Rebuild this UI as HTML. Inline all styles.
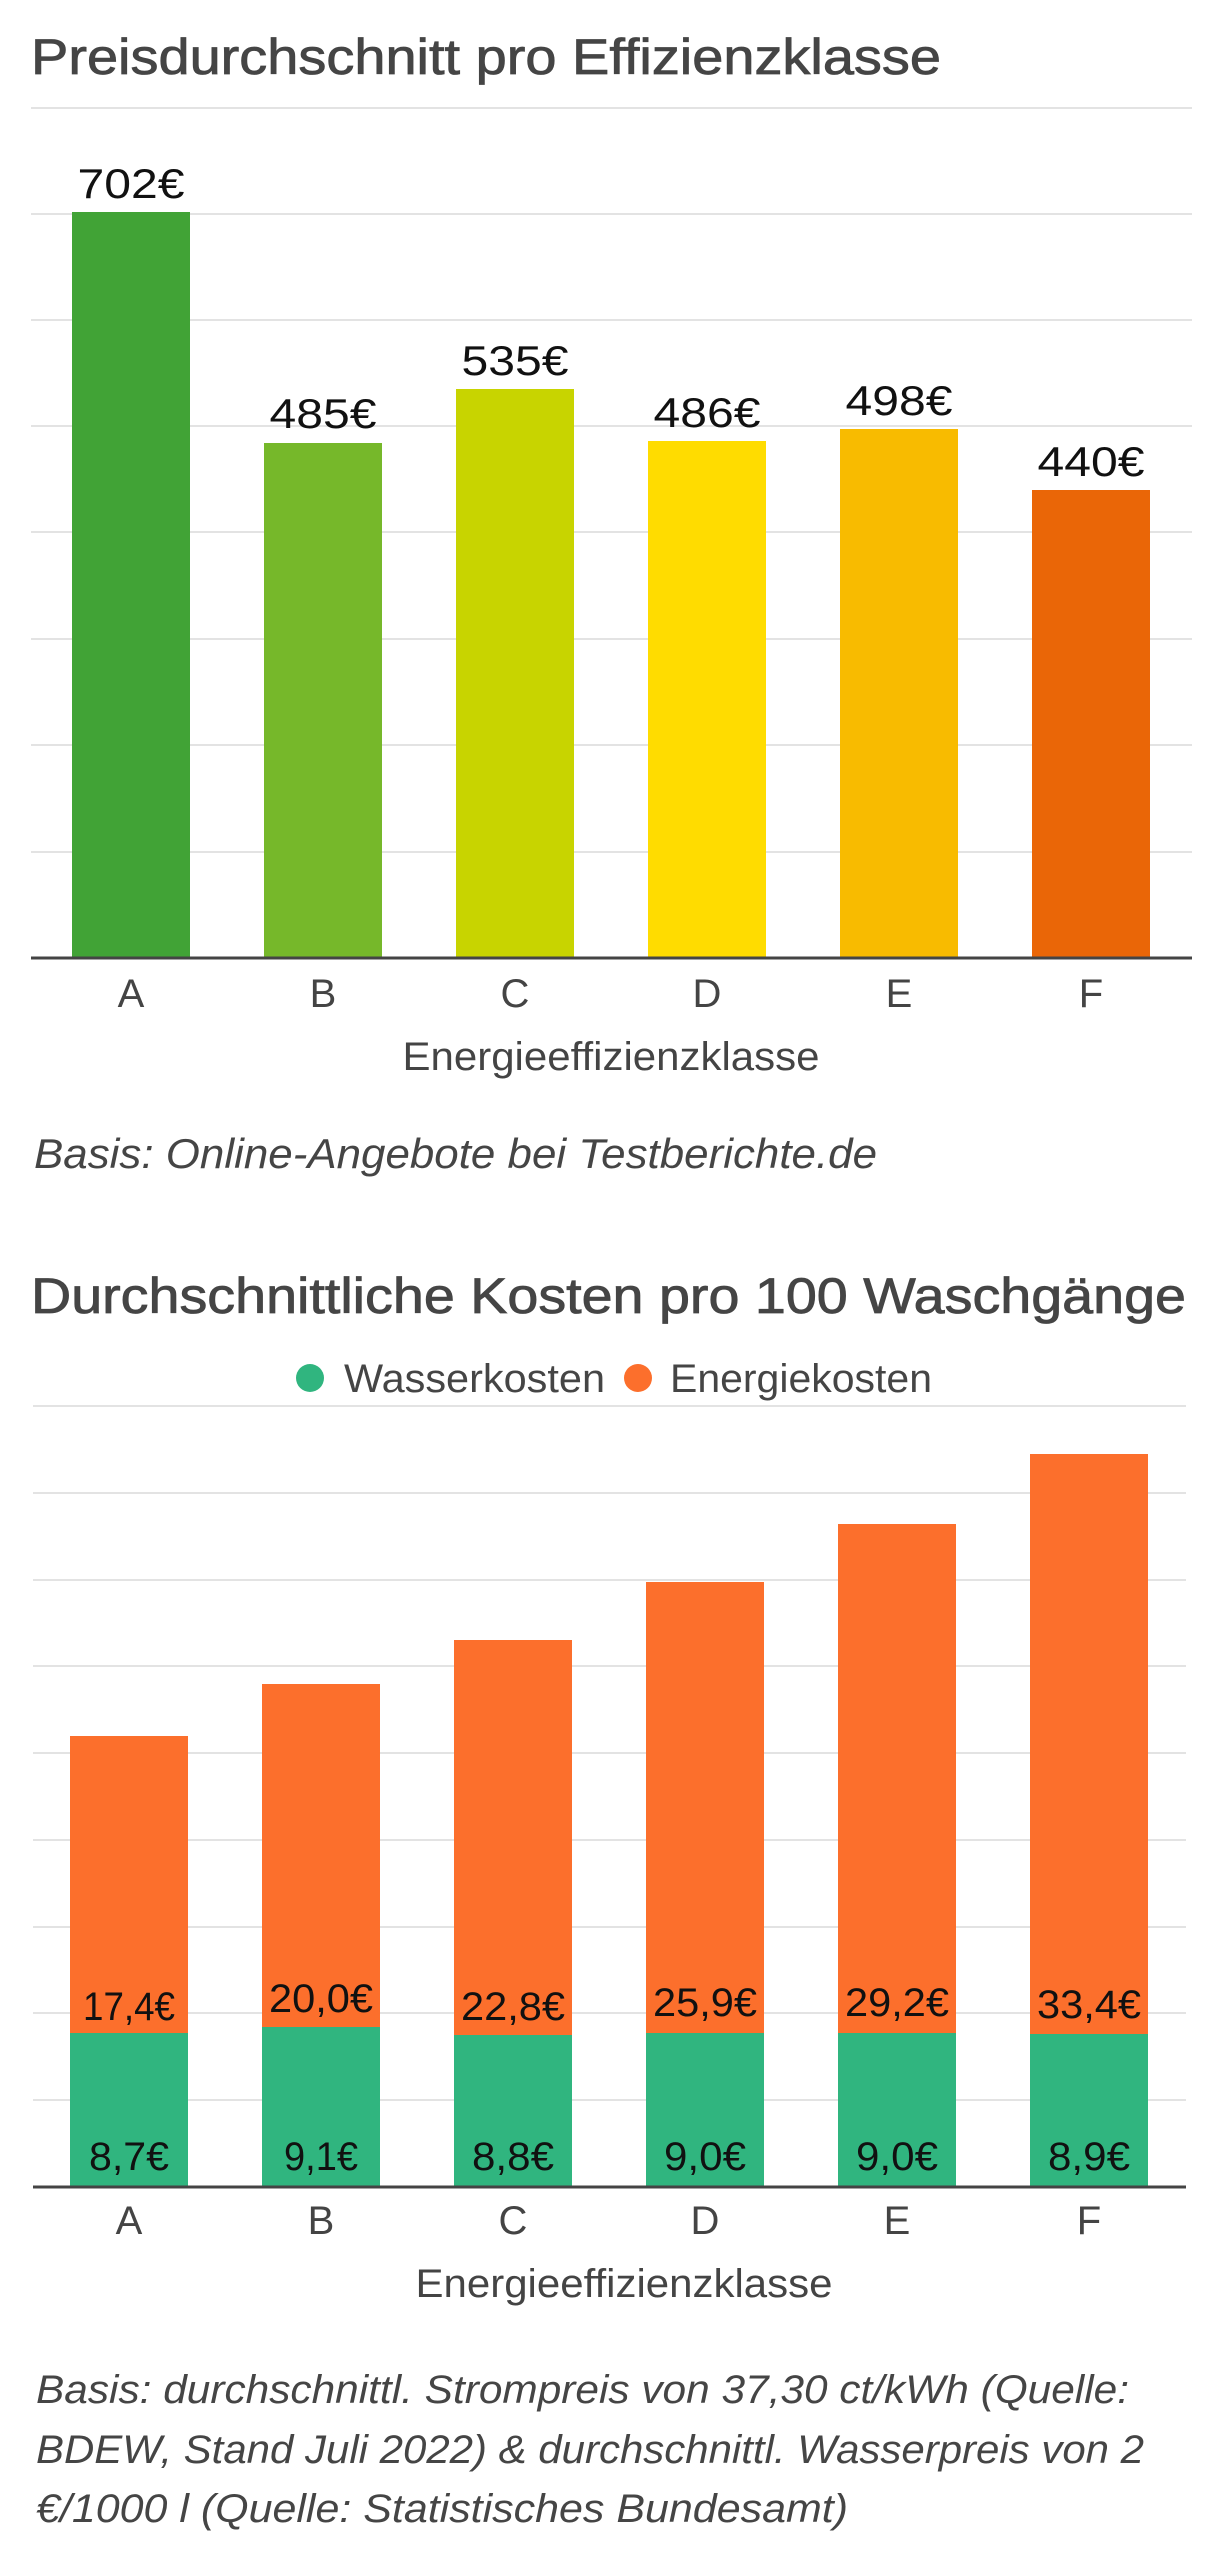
<!DOCTYPE html>
<html><head><meta charset="utf-8"><style>
html,body{margin:0;padding:0;background:#fff;width:1216px;height:2560px;overflow:hidden}
svg{display:block}
text{font-family:"Liberation Sans",sans-serif}
</style></head><body>
<svg width="1216" height="2560" viewBox="0 0 1216 2560" xmlns="http://www.w3.org/2000/svg">
<!-- Chart 1 -->
<text x="31" y="74" font-size="50" fill="#454545" stroke="#454545" stroke-width="0.8" textLength="910" lengthAdjust="spacingAndGlyphs">Preisdurchschnitt pro Effizienzklasse</text>
<g stroke="#e3e3e3" stroke-width="2">
<line x1="31" x2="1192" y1="108" y2="108"/><line x1="31" x2="1192" y1="214" y2="214"/>
<line x1="31" x2="1192" y1="320" y2="320"/><line x1="31" x2="1192" y1="426" y2="426"/>
<line x1="31" x2="1192" y1="532" y2="532"/><line x1="31" x2="1192" y1="639" y2="639"/>
<line x1="31" x2="1192" y1="745" y2="745"/><line x1="31" x2="1192" y1="852" y2="852"/>
</g>
<rect x="72" y="212" width="118" height="746" fill="#41a336"/>
<rect x="264" y="443" width="118" height="515" fill="#76b82a"/>
<rect x="456" y="389" width="118" height="569" fill="#c8d400"/>
<rect x="648" y="441" width="118" height="517" fill="#ffdc00"/>
<rect x="840" y="429" width="118" height="529" fill="#f8bb00"/>
<rect x="1032" y="490" width="118" height="468" fill="#ea6607"/>
<line x1="31" x2="1192" y1="958" y2="958" stroke="#444" stroke-width="3"/>
<g font-size="42" fill="#111" text-anchor="middle">
<text x="131" y="198" textLength="107" lengthAdjust="spacingAndGlyphs">702€</text><text x="323" y="428" textLength="107" lengthAdjust="spacingAndGlyphs">485€</text><text x="515" y="375" textLength="107" lengthAdjust="spacingAndGlyphs">535€</text>
<text x="707" y="427" textLength="107" lengthAdjust="spacingAndGlyphs">486€</text><text x="899" y="415" textLength="107" lengthAdjust="spacingAndGlyphs">498€</text><text x="1091" y="476" textLength="107" lengthAdjust="spacingAndGlyphs">440€</text>
</g>
<g font-size="40" fill="#444" text-anchor="middle">
<text x="131" y="1007">A</text><text x="323" y="1007">B</text><text x="515" y="1007">C</text>
<text x="707" y="1007">D</text><text x="899" y="1007">E</text><text x="1091" y="1007">F</text>
<text x="611" y="1070" textLength="417" lengthAdjust="spacingAndGlyphs">Energieeffizienzklasse</text>
</g>
<text x="34" y="1168" font-size="42" font-style="italic" fill="#454545" textLength="843" lengthAdjust="spacingAndGlyphs">Basis: Online-Angebote bei Testberichte.de</text>

<!-- Chart 2 -->
<text x="31" y="1313" font-size="50" fill="#454545" stroke="#454545" stroke-width="0.8" textLength="1155" lengthAdjust="spacingAndGlyphs">Durchschnittliche Kosten pro 100 Waschgänge</text>
<circle cx="310" cy="1378" r="14" fill="#30b57f"/>
<text x="344" y="1392" font-size="40" fill="#454545" textLength="261" lengthAdjust="spacingAndGlyphs">Wasserkosten</text>
<circle cx="638" cy="1378" r="14" fill="#fc6f2c"/>
<text x="670" y="1392" font-size="40" fill="#454545" textLength="262" lengthAdjust="spacingAndGlyphs">Energiekosten</text>
<g stroke="#e3e3e3" stroke-width="2">
<line x1="33" x2="1186" y1="1406" y2="1406"/><line x1="33" x2="1186" y1="1493" y2="1493"/>
<line x1="33" x2="1186" y1="1580" y2="1580"/><line x1="33" x2="1186" y1="1666" y2="1666"/>
<line x1="33" x2="1186" y1="1753" y2="1753"/><line x1="33" x2="1186" y1="1840" y2="1840"/>
<line x1="33" x2="1186" y1="1927" y2="1927"/><line x1="33" x2="1186" y1="2013" y2="2013"/>
<line x1="33" x2="1186" y1="2100" y2="2100"/>
</g>
<g fill="#fc6f2c">
<rect x="70" y="1736" width="118" height="451"/><rect x="262" y="1684" width="118" height="503"/>
<rect x="454" y="1640" width="118" height="547"/><rect x="646" y="1582" width="118" height="605"/>
<rect x="838" y="1524" width="118" height="663"/><rect x="1030" y="1454" width="118" height="733"/>
</g>
<g fill="#30b57f">
<rect x="70" y="2033" width="118" height="154"/><rect x="262" y="2027" width="118" height="160"/>
<rect x="454" y="2035" width="118" height="152"/><rect x="646" y="2033" width="118" height="154"/>
<rect x="838" y="2033" width="118" height="154"/><rect x="1030" y="2034" width="118" height="153"/>
</g>
<line x1="33" x2="1186" y1="2187" y2="2187" stroke="#444" stroke-width="3"/>
<g font-size="40" fill="#111" text-anchor="middle">
<text x="129" y="2020" textLength="92" lengthAdjust="spacingAndGlyphs">17,4€</text><text x="321" y="2012" textLength="104" lengthAdjust="spacingAndGlyphs">20,0€</text><text x="513" y="2020" textLength="104" lengthAdjust="spacingAndGlyphs">22,8€</text>
<text x="705" y="2016" textLength="104" lengthAdjust="spacingAndGlyphs">25,9€</text><text x="897" y="2016" textLength="104" lengthAdjust="spacingAndGlyphs">29,2€</text><text x="1089" y="2018" textLength="104" lengthAdjust="spacingAndGlyphs">33,4€</text>
<text x="129" y="2170" textLength="80" lengthAdjust="spacingAndGlyphs">8,7€</text><text x="321" y="2170" textLength="74" lengthAdjust="spacingAndGlyphs">9,1€</text><text x="513" y="2170" textLength="82" lengthAdjust="spacingAndGlyphs">8,8€</text>
<text x="705" y="2170" textLength="82" lengthAdjust="spacingAndGlyphs">9,0€</text><text x="897" y="2170" textLength="82" lengthAdjust="spacingAndGlyphs">9,0€</text><text x="1089" y="2170" textLength="82" lengthAdjust="spacingAndGlyphs">8,9€</text>
</g>
<g font-size="40" fill="#444" text-anchor="middle">
<text x="129" y="2234">A</text><text x="321" y="2234">B</text><text x="513" y="2234">C</text>
<text x="705" y="2234">D</text><text x="897" y="2234">E</text><text x="1089" y="2234">F</text>
<text x="624" y="2297" textLength="417" lengthAdjust="spacingAndGlyphs">Energieeffizienzklasse</text>
</g>
<g font-size="40" font-style="italic" fill="#454545">
<text x="36" y="2403" textLength="1093" lengthAdjust="spacingAndGlyphs">Basis: durchschnittl. Strompreis von 37,30 ct/kWh (Quelle:</text>
<text x="36" y="2463" textLength="1108" lengthAdjust="spacingAndGlyphs">BDEW, Stand Juli 2022) &amp; durchschnittl. Wasserpreis von 2</text>
<text x="36" y="2522" textLength="812" lengthAdjust="spacingAndGlyphs">€/1000 l (Quelle: Statistisches Bundesamt)</text>
</g>
</svg>
</body></html>
